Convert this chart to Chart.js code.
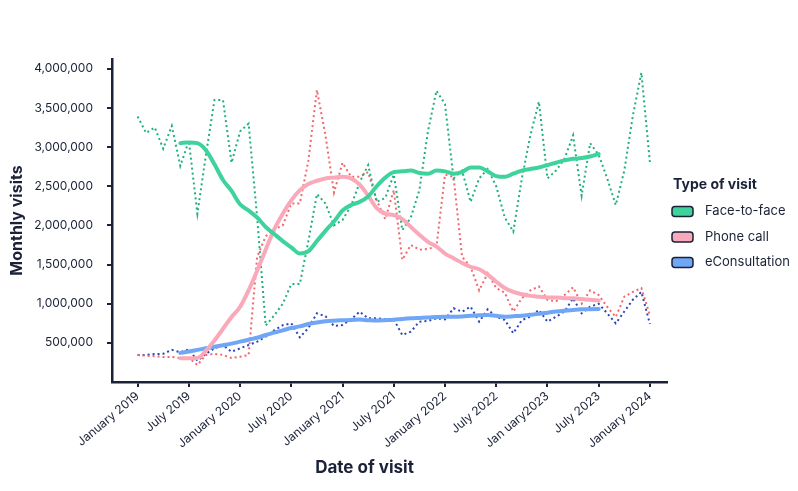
<!DOCTYPE html>
<html>
<head>
<meta charset="utf-8">
<script src="https://cdn.jsdelivr.net/npm/chart.js@4.4.1/dist/chart.umd.min.js"></script>
<style>
  body { margin: 0; background: #fff; }
</style>
</head>
<body>
<canvas id="chartVisits" width="798" height="491"></canvas>
<script>
// months shown on the axis, incl. the empty margin months either side
var categories = [
  "2018-10", "2018-11", "2018-12",
  "2019-01", "2019-02", "2019-03", "2019-04", "2019-05", "2019-06", "2019-07", "2019-08", "2019-09", "2019-10", "2019-11", "2019-12",
  "2020-01", "2020-02", "2020-03", "2020-04", "2020-05", "2020-06", "2020-07", "2020-08", "2020-09", "2020-10", "2020-11", "2020-12",
  "2021-01", "2021-02", "2021-03", "2021-04", "2021-05", "2021-06", "2021-07", "2021-08", "2021-09", "2021-10", "2021-11", "2021-12",
  "2022-01", "2022-02", "2022-03", "2022-04", "2022-05", "2022-06", "2022-07", "2022-08", "2022-09", "2022-10", "2022-11", "2022-12",
  "2023-01", "2023-02", "2023-03", "2023-04", "2023-05", "2023-06", "2023-07", "2023-08", "2023-09", "2023-10", "2023-11", "2023-12",
  "2024-01", "2024-02", "2024-03"
];
var padBefore = [null, null, null];
var padAfter = [null, null];

var tickCategories = ["2019-01", "2019-07", "2020-01", "2020-07", "2021-01", "2021-07", "2022-01", "2022-07", "2023-01", "2023-07", "2024-01"];
var tickLabels = ["January 2019", "July 2019", "January 2020", "July 2020", "January 2021", "July 2021", "January 2022", "July 2022", "Jan uary2023", "July 2023", "January 2024"];
var yTicks = [500000, 1000000, 1500000, 2000000, 2500000, 3000000, 3500000, 4000000];

var seriesNames = ["Face-to-face", "Phone call", "eConsultation"];
var legendTitle = "Type of visit";
var xTitle = "Date of visit";

// monthly visits, January 2019 .. January 2024
var faceToFaceMonthly = [
  3390000, 3180000, 3250000, 2980000, 3270000, 2760000, 3080000, 2150000, 2900000, 3600000, 3600000, 2800000,
  3200000, 3300000, 2100000, 720000, 850000, 1000000, 1250000, 1250000, 1800000, 2400000, 2280000, 2000000,
  2070000, 2250000, 2550000, 2770000, 2300000, 2350000, 2650000, 1940000, 2100000, 2450000, 3200000, 3720000,
  3550000, 2600000, 2700000, 2300000, 2600000, 2720000, 2500000, 2100000, 1920000, 2600000, 3150000, 3580000,
  2600000, 2700000, 2850000, 3150000, 2380000, 3050000, 2900000, 2600000, 2260000, 2700000, 3400000, 3950000,
  2800000
];
var phoneCallMonthly = [
  345000, 335000, 330000, 320000, 320000, 306000, 306000, 217000, 345000, 360000, 345000, 306000,
  323000, 345000, 1600000, 1860000, 1950000, 2000000, 2280000, 2280000, 2830000, 3730000, 3150000, 2420000,
  2800000, 2620000, 2620000, 2680000, 2320000, 2080000, 2450000, 1560000, 1750000, 1690000, 1700000, 1730000,
  2650000, 2620000, 1600000, 1470000, 1170000, 1390000, 1200000, 1140000, 900000, 1070000, 1170000, 1220000,
  1050000, 1030000, 1110000, 1210000, 1000000, 1170000, 1110000, 960000, 830000, 1090000, 1150000, 1200000,
  850000
];
var eConsultMonthly = [
  345000, 345000, 357000, 360000, 410000, 380000, 417000, 272000, 360000, 430000, 472000, 387000,
  430000, 472000, 515000, 579000, 660000, 725000, 749000, 570000, 690000, 877000, 840000, 715000,
  728000, 800000, 898000, 813000, 813000, 800000, 800000, 600000, 643000, 770000, 780000, 813000,
  800000, 941000, 898000, 962000, 770000, 928000, 834000, 792000, 622000, 790000, 834000, 920000,
  770000, 834000, 900000, 1070000, 877000, 962000, 1000000, 877000, 749000, 900000, 1050000, 1150000,
  740000
];

// smoothed trend, June 2019 .. July 2023 (null outside)
var faceToFaceTrend = [
  null, null, null, null, null, 3050000, 3060000, 3050000, 2960000, 2780000, 2580000, 2440000,
  2270000, 2190000, 2100000, 1980000, 1890000, 1800000, 1720000, 1640000, 1670000, 1800000, 1930000, 2050000,
  2190000, 2260000, 2300000, 2370000, 2500000, 2610000, 2680000, 2690000, 2700000, 2670000, 2660000, 2700000,
  2690000, 2660000, 2680000, 2740000, 2740000, 2690000, 2630000, 2620000, 2660000, 2700000, 2720000, 2740000,
  2770000, 2800000, 2830000, 2850000, 2860000, 2880000, 2910000, null, null, null, null, null,
  null
];
var phoneCallTrend = [
  null, null, null, null, null, 302000, 302000, 305000, 400000, 530000, 680000, 830000,
  960000, 1170000, 1420000, 1690000, 1950000, 2150000, 2320000, 2450000, 2530000, 2570000, 2600000, 2610000,
  2620000, 2600000, 2520000, 2380000, 2220000, 2150000, 2130000, 2080000, 1980000, 1880000, 1790000, 1730000,
  1640000, 1580000, 1520000, 1470000, 1440000, 1370000, 1280000, 1200000, 1150000, 1120000, 1100000, 1090000,
  1080000, 1080000, 1070000, 1070000, 1060000, 1050000, 1040000, null, null, null, null, null,
  null
];
var eConsultTrend = [
  null, null, null, null, null, 372000, 390000, 410000, 430000, 450000, 470000, 490000,
  515000, 540000, 565000, 600000, 630000, 660000, 690000, 710000, 740000, 760000, 775000, 783000,
  788000, 792000, 797000, 790000, 785000, 790000, 795000, 805000, 813000, 818000, 823000, 830000,
  834000, 834000, 837000, 845000, 852000, 856000, 845000, 834000, 840000, 847000, 858000, 870000,
  885000, 900000, 911000, 920000, 928000, 930000, 932000, null, null, null, null, null,
  null
];

var trendColors = ['#3ED39C', '#F9A9B9', '#70A6F6'];
var monthlyColors = ['#1FB07E', '#F2676B', '#2A45B8'];
var inkColor = '#1B2238';
var fontFamily = 'Inter';

function padded(arr) {
  return padBefore.concat(arr, padAfter);
}

Chart.defaults.font.family = fontFamily;
Chart.defaults.color = inkColor;

function trendSet(i, data) {
  return {
    label: seriesNames[i],
    data: padded(data),
    borderColor: trendColors[i],
    backgroundColor: trendColors[i],
    borderWidth: 4,
    borderCapStyle: 'round',
    borderJoinStyle: 'round',
    pointRadius: 0,
    cubicInterpolationMode: 'monotone'
  };
}
function monthlySet(i, data) {
  return {
    label: seriesNames[i] + ' (monthly)',
    data: padded(data),
    borderColor: monthlyColors[i],
    backgroundColor: monthlyColors[i],
    borderWidth: 2,
    borderDash: [2, 3],
    pointRadius: 0,
    tension: 0
  };
}

// legend block and x title, drawn next to the plot area
var sideLegend = {
  id: 'sideLegend',
  afterDraw: function (chart) {
    var ctx = chart.ctx;
    var area = chart.chartArea;
    var x = area.right + 5;
    var yMid = (area.top + area.bottom) / 2;
    ctx.save();
    ctx.textBaseline = 'middle';
    ctx.textAlign = 'left';
    ctx.fillStyle = inkColor;
    ctx.font = 'bold 14px ' + fontFamily;
    ctx.fillText(legendTitle, x + 1, yMid - 36);
    seriesNames.forEach(function (name, i) {
      var y = yMid - 9 + i * 25.5;
      ctx.beginPath();
      ctx.roundRect(x, y - 5, 21, 10, 3);
      ctx.fillStyle = trendColors[i];
      ctx.fill();
      ctx.lineWidth = 1.5;
      ctx.strokeStyle = inkColor;
      ctx.stroke();
      ctx.fillStyle = inkColor;
      ctx.font = '13px ' + fontFamily;
      ctx.fillText(name, x + 33, y);
    });
    // x axis title sits a little left of the plot centre
    ctx.textAlign = 'center';
    ctx.font = 'bold 17px ' + fontFamily;
    ctx.fillText(xTitle, (area.left + area.right) / 2 - 25, chart.height - 23);
    ctx.restore();
  }
};

var ctxVisits = document.getElementById('chartVisits').getContext('2d');
var chartVisits = new Chart(ctxVisits, {
  type: 'line',
  data: {
    labels: categories,
    datasets: [
      trendSet(0, faceToFaceTrend),
      trendSet(1, phoneCallTrend),
      trendSet(2, eConsultTrend),
      monthlySet(0, faceToFaceMonthly),
      monthlySet(1, phoneCallMonthly),
      monthlySet(2, eConsultMonthly)
    ]
  },
  plugins: [sideLegend],
  options: {
    responsive: false,
    animation: false,
    layout: { padding: { top: 59, left: 7, right: 131, bottom: 0 } },
    plugins: {
      tooltip: { enabled: false },
      legend: { display: false }
    },
    scales: {
      x: {
        type: 'category',
        afterFit: function (scale) { scale.height = 109; },
        border: { display: true, color: inkColor, width: 2.5 },
        grid: { display: true, drawOnChartArea: false, drawTicks: true, tickLength: 5, color: inkColor, lineWidth: 2 },
        ticks: {
          autoSkip: false,
          minRotation: 40,
          maxRotation: 40,
          padding: 2,
          color: inkColor,
          font: { size: 12 },
          callback: function (value) {
            var pos = tickCategories.indexOf(this.getLabelForValue(value));
            return pos >= 0 ? tickLabels[pos] : null;
          }
        }
      },
      y: {
        min: 0,
        max: 4125000,
        afterFit: function (scale) { scale.width = 105; },
        afterBuildTicks: function (scale) {
          scale.ticks = yTicks.map(function (v) { return { value: v }; });
        },
        border: { display: true, color: inkColor, width: 2.5 },
        grid: { display: true, drawOnChartArea: false, drawTicks: true, tickLength: 5, color: inkColor, lineWidth: 2 },
        ticks: {
          padding: 14,
          color: inkColor,
          font: { size: 12 },
          callback: function (value) { return value.toLocaleString('en-US'); }
        },
        title: {
          display: true,
          text: 'Monthly visits',
          color: inkColor,
          font: { size: 16, weight: 'bold' },
          padding: { top: 1, bottom: 0 }
        }
      }
    }
  }
});
</script>
</body>
</html>
